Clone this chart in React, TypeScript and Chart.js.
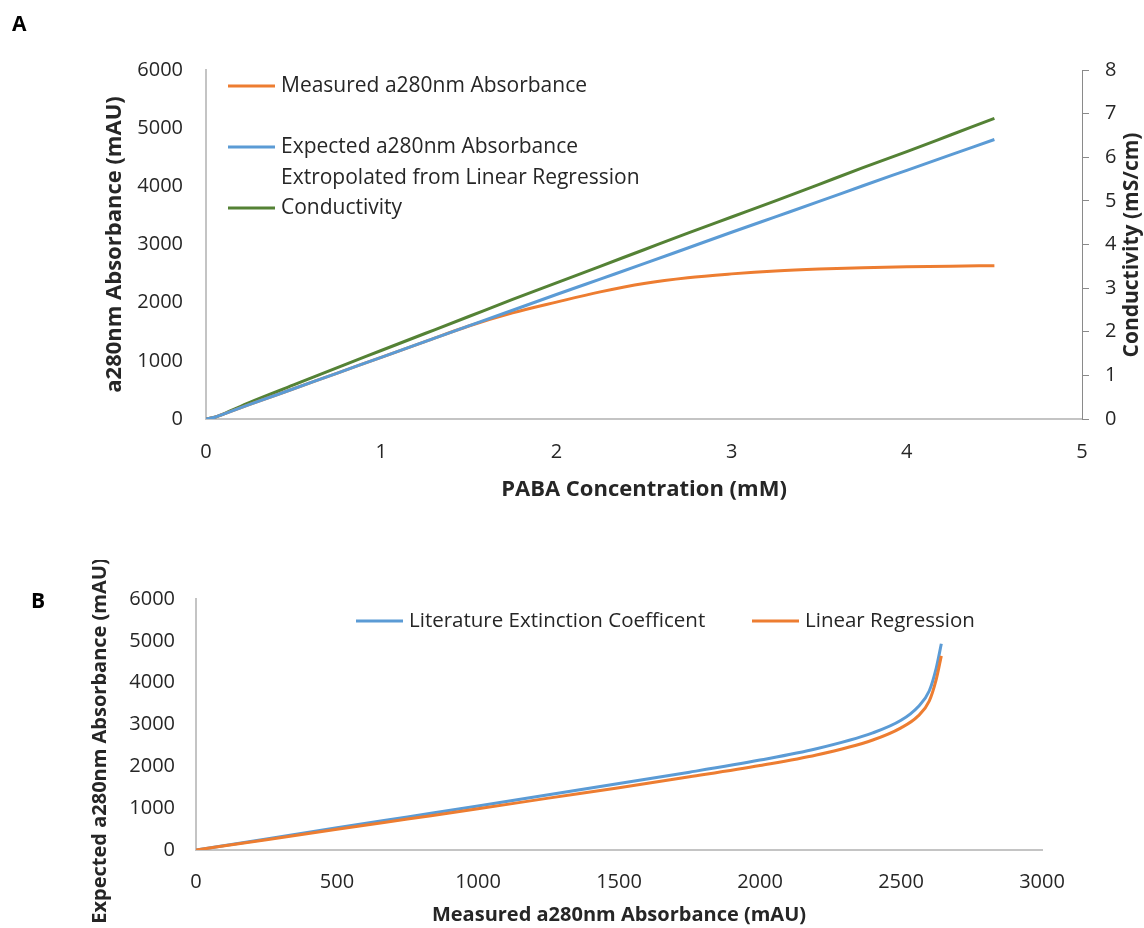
import React, { useEffect, useRef } from 'react';
import { Chart, registerables } from 'chart.js';

Chart.register(...registerables);

const FONT = '"Open Sans", "DejaVu Sans", sans-serif';
const TEXT = '#262626';
const ORANGE = '#ED7D31';
const BLUE = '#5B9BD5';
const GREEN = '#548235';
const AXIS_LIGHT = '#c4c4c4';
const AXIS_DARK = '#8a8a8a';

// ---- Panel A: absorbance and conductivity against PABA concentration ----
const concentration = [0, 0.05, 0.1, 0.25, 0.5, 0.75, 1, 1.25, 1.5, 1.75, 2, 2.25, 2.5, 2.75, 3, 3.25, 3.5, 3.75, 4, 4.25, 4.5];
const measuredAbsorbance = [0, 30, 85, 250, 520, 790, 1060, 1330, 1598, 1825, 2010, 2185, 2330, 2430, 2495, 2545, 2578, 2600, 2616, 2628, 2636];
const expectedAbsorbance = [0, 30, 85, 250, 520, 790, 1060, 1330, 1600, 1870, 2140, 2405, 2670, 2940, 3210, 3475, 3740, 4010, 4275, 4540, 4805];
const conductivity = [0, 0.04, 0.12, 0.38, 0.78, 1.18, 1.57, 1.96, 2.35, 2.74, 3.12, 3.5, 3.88, 4.26, 4.63, 5.0, 5.38, 5.76, 6.13, 6.51, 6.89];

// ---- Panel B: expected against measured absorbance ----
const measuredB = [0, 250, 500, 750, 1000, 1250, 1500, 1750, 2000, 2200, 2400, 2500, 2560, 2600, 2625, 2643];
const literatureExpected = [0, 265, 530, 790, 1050, 1320, 1590, 1860, 2150, 2420, 2800, 3100, 3420, 3800, 4350, 4930];
const regressionExpected = [0, 245, 495, 740, 985, 1240, 1490, 1750, 2020, 2270, 2630, 2920, 3200, 3560, 4080, 4640];

const toPoints = (xs: number[], ys: number[]) => xs.map((x, i) => ({ x, y: ys[i] }));

// Draws the in-plot legend, rotated axis titles and the panel letter.
const overlayPlugin = {
  id: 'overlay',
  afterDraw(chart: any, _args: any, opts: any) {
    const ctx = chart.ctx as CanvasRenderingContext2D;
    ctx.save();
    (opts.legend || []).forEach((item: any) => {
      const ds = chart.data.datasets[item.dataset];
      ctx.strokeStyle = ds.borderColor;
      ctx.lineWidth = 3;
      ctx.beginPath();
      ctx.moveTo(item.x, item.y);
      ctx.lineTo(item.x + 47, item.y);
      ctx.stroke();
      ctx.fillStyle = TEXT;
      ctx.font = `${opts.legendSize}px ${FONT}`;
      ctx.textBaseline = 'middle';
      ctx.textAlign = 'left';
      String(ds.label).split('\n').forEach((line: string, i: number) => {
        ctx.fillText(line, item.x + 53, item.y + i * 31);
      });
    });
    (opts.titles || []).forEach((t: any) => {
      ctx.save();
      ctx.translate(t.x, t.y);
      ctx.rotate(-Math.PI / 2);
      ctx.font = `bold ${t.size}px ${FONT}`;
      ctx.fillStyle = TEXT;
      ctx.textAlign = 'center';
      ctx.textBaseline = 'middle';
      ctx.fillText(t.text, 0, 0);
      ctx.restore();
    });
    if (opts.panel) {
      ctx.font = `bold 21px ${FONT}`;
      ctx.fillStyle = '#000';
      ctx.textAlign = 'left';
      ctx.textBaseline = 'middle';
      ctx.fillText(opts.panel.text, opts.panel.x, opts.panel.y);
    }
    ctx.restore();
  },
};

const lineDataset = (label: string, data: any[], color: string, order: number, extra: any = {}) => ({
  label,
  data,
  borderColor: color,
  backgroundColor: color,
  borderWidth: 3,
  pointRadius: 0,
  fill: false,
  cubicInterpolationMode: 'monotone',
  order,
  ...extra,
});

const tickFont = { family: FONT, size: 20 };
const plainNumber = { useGrouping: false };

function makeChartA(canvas: HTMLCanvasElement) {
  return new Chart(canvas, {
    type: 'line',
    data: {
      datasets: [
        lineDataset('Measured a280nm Absorbance', toPoints(concentration, measuredAbsorbance), ORANGE, 1),
        lineDataset('Expected a280nm Absorbance\nExtropolated from Linear Regression', toPoints(concentration, expectedAbsorbance), BLUE, 0),
        lineDataset('Conductivity', toPoints(concentration, conductivity), GREEN, 2, { yAxisID: 'y1' }),
      ],
    },
    options: {
      responsive: false,
      animation: false,
      layout: { padding: { left: 102, right: 0, top: 70, bottom: 0 } },
      plugins: {
        legend: { display: false },
        tooltip: { enabled: false },
        overlay: {
          legendSize: 21,
          legend: [
            { dataset: 0, x: 228, y: 86 },
            { dataset: 1, x: 228, y: 147 },
            { dataset: 2, x: 228, y: 208 },
          ],
          titles: [{ text: 'Conductivity (mS/cm)', x: 1132, y: 245, size: 21 }],
          panel: { text: 'A', x: 12, y: 25 },
        },
      } as any,
      scales: {
        x: {
          type: 'linear',
          min: 0,
          max: 5,
          ticks: { stepSize: 1, padding: 21, color: TEXT, font: tickFont, format: plainNumber },
          grid: { display: false, drawTicks: false },
          border: { display: true, color: AXIS_LIGHT, width: 2 },
          title: {
            display: true,
            text: 'PABA Concentration (mM)',
            color: TEXT,
            font: { family: FONT, size: 22, weight: 'bold' },
            padding: { top: 0, bottom: 7 },
          },
          afterFit: (s: any) => { s.height = 91; },
        },
        y: {
          type: 'linear',
          position: 'left',
          min: 0,
          max: 6000,
          ticks: { stepSize: 1000, padding: 23, color: TEXT, font: tickFont, format: plainNumber },
          grid: { display: false, drawTicks: false },
          border: { display: true, color: AXIS_LIGHT, width: 2 },
          title: {
            display: true,
            text: 'a280nm Absorbance (mAU)',
            color: TEXT,
            font: { family: FONT, size: 22, weight: 'bold' },
            padding: { top: 0, bottom: 0 },
          },
          afterFit: (s: any) => { s.width = 104; },
        },
        y1: {
          type: 'linear',
          position: 'right',
          min: 0,
          max: 8,
          ticks: { stepSize: 1, padding: 16, color: TEXT, font: tickFont, format: plainNumber },
          grid: { display: true, drawOnChartArea: false, drawTicks: true, tickLength: 7, color: AXIS_DARK },
          border: { display: true, color: AXIS_DARK, width: 1 },
          afterFit: (s: any) => { s.width = 62; },
        },
      },
    } as any,
    plugins: [overlayPlugin],
  });
}

function makeChartB(canvas: HTMLCanvasElement) {
  return new Chart(canvas, {
    type: 'line',
    data: {
      datasets: [
        lineDataset('Literature Extinction Coefficent', toPoints(measuredB, literatureExpected), BLUE, 1),
        lineDataset('Linear Regression', toPoints(measuredB, regressionExpected), ORANGE, 0),
      ],
    },
    options: {
      responsive: false,
      animation: false,
      layout: { padding: { left: 100, right: 102, top: 39, bottom: 0 } },
      plugins: {
        legend: { display: false },
        tooltip: { enabled: false },
        overlay: {
          legendSize: 20.5,
          legend: [
            { dataset: 0, x: 356, y: 61 },
            { dataset: 1, x: 752, y: 61 },
          ],
          titles: [{ text: 'Expected a280nm Absorbance (mAU)', x: 100, y: 181, size: 20 }],
          panel: { text: 'B', x: 31, y: 42 },
        },
      } as any,
      scales: {
        x: {
          type: 'linear',
          min: 0,
          max: 3000,
          ticks: { stepSize: 500, padding: 20, color: TEXT, font: tickFont, format: plainNumber },
          grid: { display: false, drawTicks: false },
          border: { display: true, color: AXIS_LIGHT, width: 2 },
          title: {
            display: true,
            text: 'Measured a280nm Absorbance (mAU)',
            color: TEXT,
            font: { family: FONT, size: 20, weight: 'bold' },
            padding: { top: 0, bottom: 1 },
          },
          afterFit: (s: any) => { s.height = 78; },
        },
        y: {
          type: 'linear',
          position: 'left',
          min: 0,
          max: 6000,
          ticks: { stepSize: 1000, padding: 21, color: TEXT, font: tickFont, format: plainNumber },
          grid: { display: false, drawTicks: false },
          border: { display: true, color: AXIS_LIGHT, width: 2 },
          afterFit: (s: any) => { s.width = 96; },
        },
      },
    } as any,
    plugins: [overlayPlugin],
  });
}

export default function App() {
  const refA = useRef<HTMLCanvasElement>(null);
  const refB = useRef<HTMLCanvasElement>(null);

  useEffect(() => {
    const a = makeChartA(refA.current as HTMLCanvasElement);
    const b = makeChartB(refB.current as HTMLCanvasElement);
    return () => {
      a.destroy();
      b.destroy();
    };
  }, []);

  return (
    <div style={{ position: 'fixed', left: 0, top: 0, width: 1144, height: 928, background: '#ffffff' }}>
      <canvas ref={refA} width={1144} height={510} style={{ position: 'absolute', left: 0, top: 0 }} />
      <canvas ref={refB} width={1144} height={368} style={{ position: 'absolute', left: 0, top: 560 }} />
    </div>
  );
}
